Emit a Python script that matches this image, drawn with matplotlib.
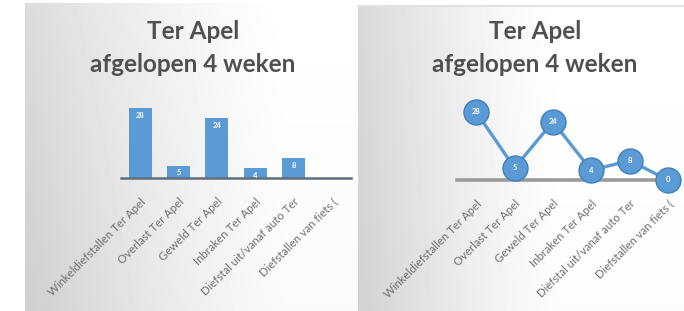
import numpy as np
import matplotlib
matplotlib.use("Agg")
import matplotlib.pyplot as plt

# Data
categories = [
    "Winkeldiefstallen Ter Apel",
    "Overlast Ter Apel",
    "Geweld Ter Apel",
    "Inbraken Ter Apel",
    "Diefstal uit/vanaf auto Ter",
    "Diefstallen van fiets (",
]
counts = [28, 5, 24, 4, 8, 0]

title = "Ter Apel\nafgelopen 4 weken"
blue = "#5B9BD5"
text_gray = "#505050"
label_gray = "#6f6f6f"

W, H = 684, 311
fig = plt.figure(figsize=(W / 100, H / 100), dpi=100)
plt.rcParams["font.family"] = ["Lato", "DejaVu Sans"]


def px(x0, y0, x1, y1):
    # pixel box (top-left origin) -> figure fraction
    return [x0 / W, 1 - y1 / H, (x1 - x0) / W, (y1 - y0) / H]


# background panels with a soft grey gradient
bg = fig.add_axes([0, 0, 1, 1], zorder=-10)
bg.set_xlim(0, W)
bg.set_ylim(H, 0)
bg.axis("off")


def gradient(x0, x1, y0, y1, g_left, fade, vert=0.0):
    xs = np.arange(x0, x1)
    ys = np.arange(y0, y1)
    t = np.clip((xs - x0) / fade, 0, 1)
    gx = (1 - g_left) * (1 - t) ** 1.3
    gy = vert * (ys - y0) / (y1 - y0)
    dark = gx[None, :] + gy[:, None] * (1 - t[None, :] * 0.6)
    img = np.clip(1 - dark, 0, 1)
    bg.imshow(img, cmap="gray", vmin=0, vmax=1, extent=(x0, x1, y1, y0),
              aspect="auto", interpolation="bilinear")


gradient(25, 358, 3, 311, 0.86, 260, vert=0.05)
gradient(358, 684, 6, 311, 0.85, 200, vert=0.03)
bg.plot([358, 684], [5.5, 5.5], color="#e2e2e2", lw=1.5)

# left panel: bar chart
ax1 = fig.add_axes(px(121, 108, 351, 178))
x = np.arange(len(categories))
ax1.bar(x, counts, width=0.6, color=blue, zorder=2)
for xi, v in zip(x, counts):
    if v > 0:
        ax1.text(xi, v - 1.5, str(v), color="white", ha="center", va="top",
                 fontsize=5.5, fontweight="bold", clip_on=False)
ax1.set_xlim(-0.5, 5.5)
ax1.set_ylim(0, 28)

# right panel: line chart
ax2 = fig.add_axes(px(457, 112, 668, 180))
ax2.plot(x, counts, color=blue, lw=2.4, marker="o", markersize=18,
         markerfacecolor=blue, markeredgecolor="#3f7fc0", markeredgewidth=1,
         clip_on=False, zorder=3)
for xi, v in zip(x, counts):
    ax2.text(xi, v, str(v), color="white", ha="center", va="center",
             fontsize=5.5, fontweight="bold", zorder=4, clip_on=False)
ax2.set_xlim(-0.5, 4.77)
ax2.set_ylim(0, 28)

for ax, spine_col, spine_w in [(ax1, "#5f6d7c", 1.8), (ax2, "#9a9a9a", 2.6)]:
    ax.patch.set_visible(False)
    for s in ["top", "right", "left"]:
        ax.spines[s].set_visible(False)
    ax.spines["bottom"].set_color(spine_col)
    ax.spines["bottom"].set_linewidth(spine_w)
    ax.set_yticks([])
    ax.set_xticks(x)
    ax.set_xticklabels(categories, rotation=45, ha="right",
                       rotation_mode="anchor", fontsize=8.2, color=label_gray)
    ax.tick_params(axis="x", length=0, pad=13)

fig.text(193 / W, 1 - 20 / H, title, ha="center", va="top", fontsize=17.5,
         fontweight="bold", color=text_gray, linespacing=1.5)
fig.text(535 / W, 1 - 20 / H, title, ha="center", va="top", fontsize=17.5,
         fontweight="bold", color=text_gray, linespacing=1.5)

fig.savefig("out.png", dpi=100)
